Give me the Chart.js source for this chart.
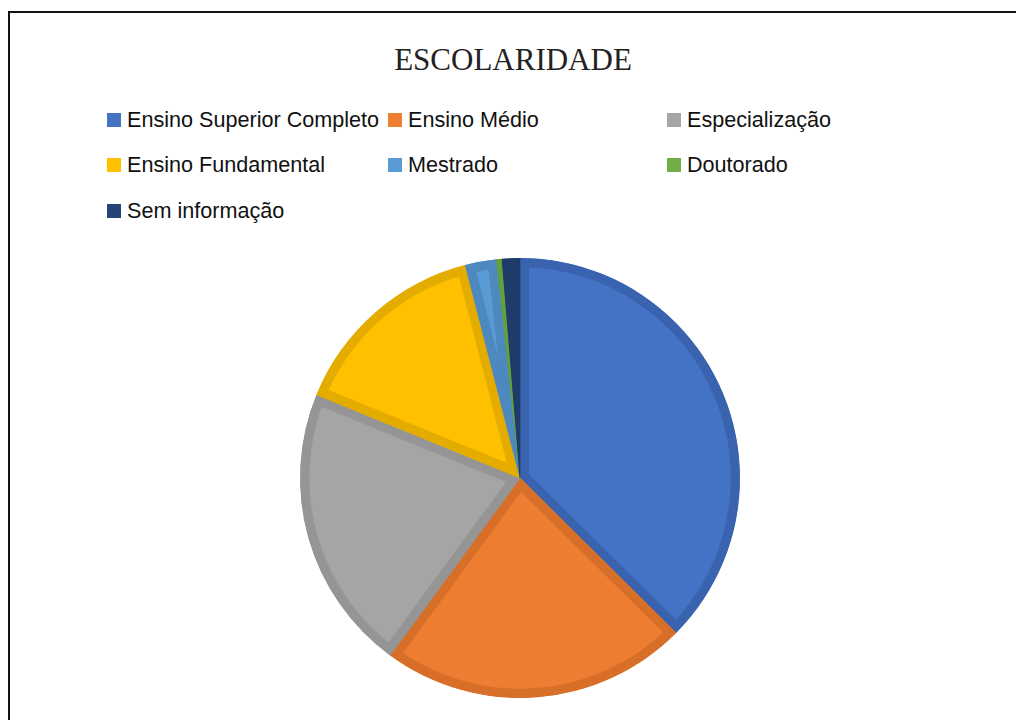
<!DOCTYPE html>
<html>
<head>
<meta charset="utf-8">
<script src="https://cdn.jsdelivr.net/npm/chart.js@4"></script>
<style>
  html, body { margin: 0; padding: 0; background: #fff; }
  body { width: 1016px; height: 720px; position: relative; overflow: hidden; }
  #frame { position: absolute; left: 8px; top: 11px; width: 1100px; height: 800px;
           border-left: 2px solid #111; border-top: 2px solid #111; }
  #title { position: absolute; left: 0; width: 1026px; top: 42px; text-align: center;
           font-family: "Liberation Serif", serif; font-size: 31px; color: #222; }
  .item { position: absolute; height: 24px; display: flex; align-items: center;
          font-family: "Liberation Sans", sans-serif; font-size: 21.6px; color: #111; white-space: nowrap; }
  .item span.box { width: 14px; height: 14px; margin-right: 6px; display: inline-block; }
  #pie { position: absolute; left: 0; top: 0; }
</style>
</head>
<body>
<div id="frame"></div>
<div id="title">ESCOLARIDADE</div>
<div id="legend"></div>
<canvas id="pie" width="1016" height="720"></canvas>
<script>
const categories = ['Ensino Superior Completo', 'Ensino Médio', 'Especialização',
  'Ensino Fundamental', 'Mestrado', 'Doutorado', 'Sem informação'];
const values = [37.4, 22.6, 21.1, 14.8, 2.3, 0.4, 1.3];
const fillColors = ['#4472C4', '#ED7D31', '#A5A5A5', '#FFC000', '#5B9BD5', '#70AD47', '#264478'];
const edgeColors = ['#3A63AF', '#D86F28', '#959595', '#E5AC00', '#4D88BF', '#62A03C', '#1F3B6A'];

// legend laid out as a 3-column grid like the original
const legendCols = [107, 388, 667];
const legendRows = [108, 153, 199];
const legend = document.getElementById('legend');
categories.forEach((name, i) => {
  const el = document.createElement('div');
  el.className = 'item';
  el.style.left = legendCols[i % 3] + 'px';
  el.style.top = legendRows[Math.floor(i / 3)] + 'px';
  el.innerHTML = '<span class="box" style="background:' + fillColors[i] + '"></span>' + name;
  legend.appendChild(el);
});

const ctx = document.getElementById('pie').getContext('2d');
new Chart(ctx, {
  type: 'pie',
  data: {
    labels: categories,
    datasets: [{
      data: values,
      backgroundColor: fillColors,
      borderColor: edgeColors,
      borderWidth: 9,
      borderAlign: 'inner',
      borderJoinStyle: 'miter',
    }],
  },
  options: {
    responsive: false,
    animation: false,
    layout: { padding: { left: 300, right: 276, top: 258, bottom: 22 } },
    plugins: {
      legend: { display: false },
      tooltip: { enabled: false },
    },
  },
});
</script>
</body>
</html>
